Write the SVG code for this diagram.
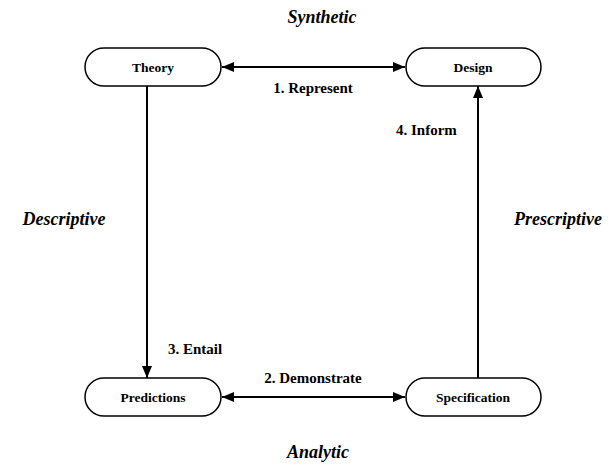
<svg xmlns="http://www.w3.org/2000/svg" width="615" height="466" viewBox="0 0 615 466">
  <style>
    .node rect { fill: #fff; stroke: #000; stroke-width: 1.5; }
    .node text { font-weight: bold; font-size: 13.5px; text-anchor: middle; }
    .edge { stroke: #000; stroke-width: 2; fill: none; }
    .lbl { font-weight: bold; font-size: 15px; }
    .axis { font-weight: bold; font-style: italic; font-size: 18px; text-anchor: middle; }
  </style>
  <defs>
    <marker id="arrow" viewBox="0 0 12 10" refX="12" refY="5" markerWidth="12" markerHeight="10" markerUnits="userSpaceOnUse" orient="auto-start-reverse">
      <path d="M0,0 L12,5 L0,10 Z" fill="#000"/>
    </marker>
  </defs>

  <g font-family="Liberation Serif, DejaVu Serif, serif">
    <!-- connectors -->
    <g id="connectors">
      <line class="edge" x1="222" y1="67" x2="405" y2="67" marker-start="url(#arrow)" marker-end="url(#arrow)"/>
      <line class="edge" x1="222" y1="397" x2="405" y2="397" marker-start="url(#arrow)" marker-end="url(#arrow)"/>
      <line class="edge" x1="147" y1="86" x2="147" y2="378" marker-end="url(#arrow)"/>
      <line class="edge" x1="478" y1="378" x2="478" y2="86" marker-end="url(#arrow)"/>
      <text class="lbl" x="313" y="93" text-anchor="middle">1. Represent</text>
      <text class="lbl" x="313" y="383" text-anchor="middle">2. Demonstrate</text>
      <text class="lbl" x="168" y="354">3. Entail</text>
      <text class="lbl" x="396" y="135">4. Inform</text>
    </g>

    <!-- nodes -->
    <g id="theory" class="node">
      <rect x="85" y="48" width="136" height="38" rx="19"/>
      <text x="153" y="72">Theory</text>
    </g>
    <g id="design" class="node">
      <rect x="406" y="48" width="135" height="38" rx="19"/>
      <text x="473" y="72">Design</text>
    </g>
    <g id="predictions" class="node">
      <rect x="85" y="378" width="136" height="38" rx="19"/>
      <text x="153" y="402">Predictions</text>
    </g>
    <g id="specification" class="node">
      <rect x="406" y="378" width="135" height="38" rx="19"/>
      <text x="473" y="402">Specification</text>
    </g>

    <!-- axis labels -->
    <text class="axis" x="322" y="23">Synthetic</text>
    <text class="axis" x="318" y="458">Analytic</text>
    <text class="axis" x="64" y="225">Descriptive</text>
    <text class="axis" x="558" y="225">Prescriptive</text>
  </g>
</svg>
